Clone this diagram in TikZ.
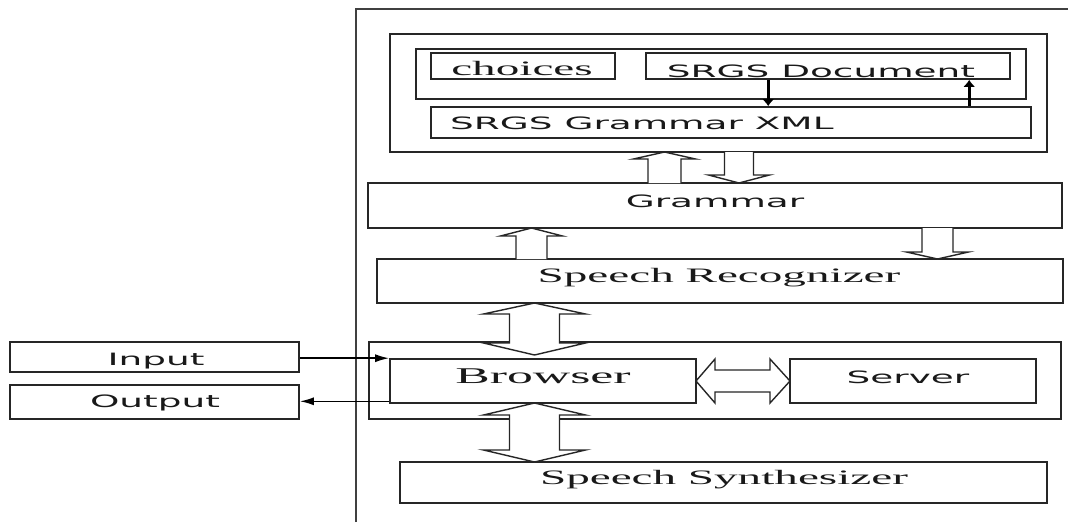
\documentclass[tikz,border=0pt]{standalone}
\usepackage{fontspec}
\usetikzlibrary{arrows.meta,fit}
\newfontfamily\ser{Liberation Serif}[FakeStretch=2.3]
\newfontfamily\san{DejaVu Sans}[FakeStretch=2.2]
\tikzset{
  box/.style={draw=black!85, line width=1.6pt, inner sep=0pt, fill=none},
  sanT/.style={font=\san\fontsize{17}{20}\selectfont, inner sep=0pt, text=black!90},
  serT/.style={font=\ser\fontsize{20.5}{24}\selectfont, inner sep=0pt, text=black!90},
  hollow/.style={draw=black!85, line width=1.4pt, fill=white, line join=miter},
  solidar/.style={line width=3.4pt, -{Latex[length=7pt,width=12pt]}},
  thinar/.style={line width=1.6pt, -{Latex[length=14pt,width=8pt]}}
}
% vertical single hollow arrow: x, tip y, head-base y, tail y, shaft hw, head hw
\newcommand\hvs[6]{\draw[hollow] (#1-#5,#4) -- (#1-#5,#3) -- (#1-#6,#3) -- (#1,#2) -- (#1+#6,#3) -- (#1+#5,#3) -- (#1+#5,#4);}
% vertical double hollow arrow: x, tip1, base1, base2, tip2, shaft hw, head hw
\newcommand\hvd[7]{\draw[hollow] (#1,#2) -- (#1+#7,#3) -- (#1+#6,#3) -- (#1+#6,#4) -- (#1+#7,#4) -- (#1,#5) -- (#1-#7,#4) -- (#1-#6,#4) -- (#1-#6,#3) -- (#1-#7,#3) -- cycle;}
% horizontal double hollow arrow: y, tip1, base1, base2, tip2, shaft hw, head hw
\newcommand\hhd[7]{\draw[hollow] (#2,#1) -- (#3,#1-#7) -- (#3,#1-#6) -- (#4,#1-#6) -- (#4,#1-#7) -- (#5,#1) -- (#4,#1+#7) -- (#4,#1+#6) -- (#3,#1+#6) -- (#3,#1+#7) -- cycle;}
\begin{document}
\begin{tikzpicture}[x=1pt,y=-1pt]
\useasboundingbox (0,0) rectangle (1068,522);
% outer frame (open)
\draw[line width=1.9pt, black!75] (356,522) -- (356,9) -- (1068,9);
% boxes
\node[box, fit={(390,34) (1047,152)}] (srgs) {};
\node[box, fit={(416,49) (1026,99)}] (grp) {};
\node[box, fit={(431,53) (615,79)}] (choices) {};
\node[box, fit={(646,53) (1010,79)}] (doc) {};
\node[box, fit={(431,107) (1031,138)}] (xml) {};
\node[box, fit={(368,183) (1062,228)}] (grammar) {};
\node[box, fit={(377,259) (1063,303)}] (sr) {};
\node[box, fit={(369,342) (1061,419)}] (bgrp) {};
\node[box, fit={(390,359) (696,403)}] (browser) {};
\node[box, fit={(790,359) (1036,403)}] (server) {};
\node[box, fit={(400,462) (1047,503)}] (synth) {};
\node[box, fit={(10,342) (299,372)}] (input) {};
\node[box, fit={(10,385) (299,419)}] (output) {};
% texts
\node[serT, anchor=base] (tchoices) at (522,75) {choices};
\node[sanT, anchor=base] (tdoc) at (821,77) {SRGS Document};
\node[sanT, anchor=base west] (txml) at (450,129) {SRGS Grammar XML};
\node[sanT, anchor=base] (tgrammar) at (715,207) {Grammar};
\node[serT, anchor=base] (tsr) at (719,282) {Speech Recognizer};
\node[serT, font=\ser\fontsize{22.5}{26}\selectfont, anchor=base] (tbrowser) at (543,383) {Browser};
\node[sanT, anchor=base] (tserver) at (908,383) {Server};
\node[serT, anchor=base] (tsynth) at (724,484) {Speech Synthesizer};
\node[sanT, anchor=base] (tinput) at (156,365) {Input};
\node[sanT, anchor=base] (toutput) at (155,407) {Output};
% solid arrows between SRGS Document and SRGS Grammar XML
\draw[solidar] ([xshift=123pt]doc.south west) -- ([xshift=338pt]xml.north west);
\draw[solidar] ([xshift=539pt]xml.north west) -- ([xshift=324pt]doc.south west);
% hollow arrows
\hvs{664.5}{152}{159}{183}{16.5}{31}
\hvs{739}{183}{175}{152}{14.5}{30.5}
\hvs{531.5}{228}{236}{259}{15.5}{31}
\hvs{937.5}{259}{252}{228}{15.5}{31}
\hvd{534.5}{303}{314}{343}{355}{25}{51}
\hvd{534.5}{403}{415}{450}{462}{25}{51}
\hhd{381}{696}{715}{770}{790}{11}{22}
% input / output
\draw[thinar] (input.east |- browser.north west) -- (browser.north west);
\draw[thinar] ([yshift=2.5pt]browser.south west) -- ([yshift=2.5pt]output.east |- browser.south west);
\end{tikzpicture}
\end{document}
